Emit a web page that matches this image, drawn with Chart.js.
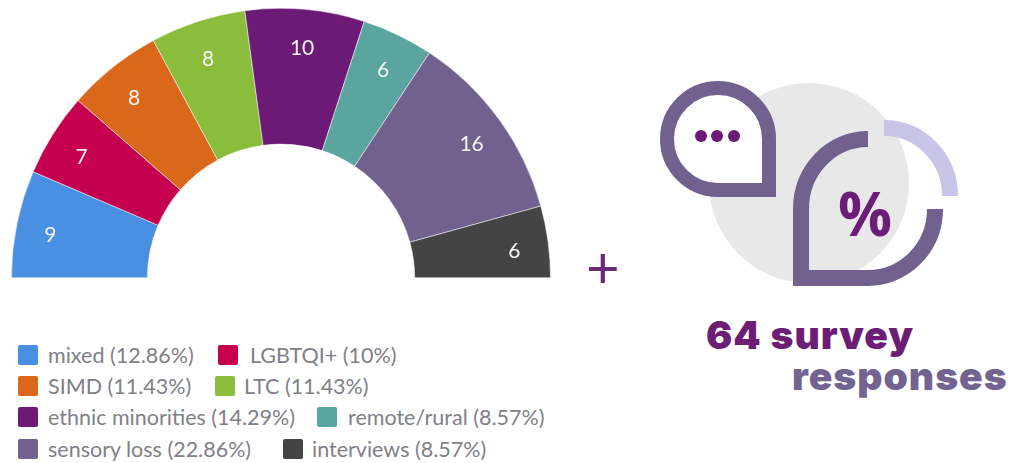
<!DOCTYPE html>
<html>
<head>
<meta charset="utf-8">
<script src="https://cdn.jsdelivr.net/npm/chart.js@4"></script>
<style>
    html, body { margin: 0; padding: 0; background: #fff; }
    body { position: relative; width: 1013px; height: 463px; overflow: hidden; font-family: Lato, sans-serif; }
    #chartWrap { position: absolute; left: 4px; top: 2px; width: 554px; height: 281px; }
    #legend span { position: absolute; white-space: nowrap; }
    .swatch { width: 20px; height: 20px; border-radius: 2px; }
    .legendText { font-size: 21.5px; line-height: 24px; color: #808087; }
    #icons { position: absolute; left: 0; top: 0; }
    .heading { position: absolute; white-space: nowrap; font-family: Inter, sans-serif; font-weight: 900; font-size: 39px; line-height: 44px; letter-spacing: 1px; }
    #plus { position: absolute; left: 586px; top: 236px; font-size: 58px; line-height: 60px; color: #6b2b78; font-weight: 400; }
    #percent { position: absolute; left: 838px; top: 178px; font-family: "Open Sans", sans-serif; font-weight: 700; font-size: 60px; line-height: 70px; color: #6b1d78; }
</style>
</head>
<body>
<svg id="icons" width="1013" height="463">
    <circle cx="809" cy="183" r="100" fill="#e8e8e8"/>
    <!-- speech bubble, left -->
    <path d="M769 190 H718 A51 51 0 1 1 769 139 Z" fill="#fff" stroke="#72608e" stroke-width="14"/>
    <circle cx="701" cy="136" r="6" fill="#6c1a75"/>
    <circle cx="717" cy="136" r="6" fill="#6c1a75"/>
    <circle cx="734" cy="136" r="6" fill="#6c1a75"/>
    <!-- percent bubble, right -->
    <path d="M868 139 A67 70 0 0 0 801 209 V278 H868 A67 69 0 0 0 935 209" fill="none" stroke="#72608e" stroke-width="16"/>
    <path d="M884 128 A66 68 0 0 1 950 196" fill="none" stroke="#c9c5e6" stroke-width="16"/>
</svg>
<div id="percent">%</div>
<div id="plus">+</div>
<div class="heading" style="left:706px;top:313px;color:#6c1d74;">64 survey</div>
<div class="heading" style="left:792px;top:354px;color:#736391;">responses</div>

<div id="chartWrap"><canvas id="seatChart" width="554" height="281"></canvas></div>
<div id="legend"></div>

<script>
const categories = ['mixed', 'LGBTQI+', 'SIMD', 'LTC', 'ethnic minorities', 'remote/rural', 'sensory loss', 'interviews'];
const seriesValues = [9, 7, 8, 8, 10, 6, 16, 6];
const percentLabels = ['12.86%', '10%', '11.43%', '11.43%', '14.29%', '8.57%', '22.86%', '8.57%'];
const sliceColors = ['#4a90e2', '#c4004f', '#d9681a', '#8bbd3c', '#6c1a75', '#5ba5a0', '#72608e', '#444444'];

// legend rows as laid out in the picture: [swatch x, text x, row y]
const legendSpots = [
    [18, 48, 355], [218, 250, 355],
    [18, 48, 386], [215, 244, 386],
    [18, 48, 417], [317, 348, 417],
    [18, 48, 449], [283, 312, 449]
];

const legendEl = document.getElementById('legend');
categories.forEach((name, i) => {
    const [sx, tx, y] = legendSpots[i];
    const sw = document.createElement('span');
    sw.className = 'swatch';
    sw.style.cssText = `left:${sx}px;top:${y - 10}px;background:${sliceColors[i]}`;
    legendEl.appendChild(sw);
    const txt = document.createElement('span');
    txt.className = 'legendText';
    txt.style.cssText = `left:${tx}px;top:${y - 12}px`;
    txt.textContent = `${name} (${percentLabels[i]})`;
    legendEl.appendChild(txt);
});

// value labels sit near the outer edge of each slice, a touch below the mid line
const sliceValueLabels = {
    id: 'sliceValueLabels',
    afterDatasetsDraw(chart) {
        const { ctx } = chart;
        ctx.save();
        ctx.font = '21px Lato';
        ctx.fillStyle = '#f4f4f4';
        ctx.textAlign = 'center';
        ctx.textBaseline = 'middle';
        chart.getDatasetMeta(0).data.forEach((arc, i) => {
            const p = arc.getProps(['startAngle', 'endAngle', 'innerRadius', 'outerRadius', 'x', 'y'], true);
            const mid = (p.startAngle + p.endAngle) / 2;
            const r = p.innerRadius + 0.75 * (p.outerRadius - p.innerRadius);
            ctx.fillText(seriesValues[i], p.x + Math.cos(mid) * r, p.y + Math.sin(mid) * r + 5);
        });
        ctx.restore();
    }
};

new Chart(document.getElementById('seatChart'), {
    type: 'doughnut',
    data: {
        labels: categories,
        datasets: [{
            data: seriesValues,
            backgroundColor: sliceColors,
            borderColor: '#ffffff',
            borderWidth: 0.5
        }]
    },
    options: {
        responsive: false,
        animation: false,
        rotation: -90,
        circumference: 180,
        cutout: '49.6%',
        layout: { padding: { left: 5, right: 5, top: 6, bottom: 5 } },
        plugins: {
            legend: { display: false },
            tooltip: { enabled: false }
        }
    },
    plugins: [sliceValueLabels]
});
</script>
</body>
</html>
